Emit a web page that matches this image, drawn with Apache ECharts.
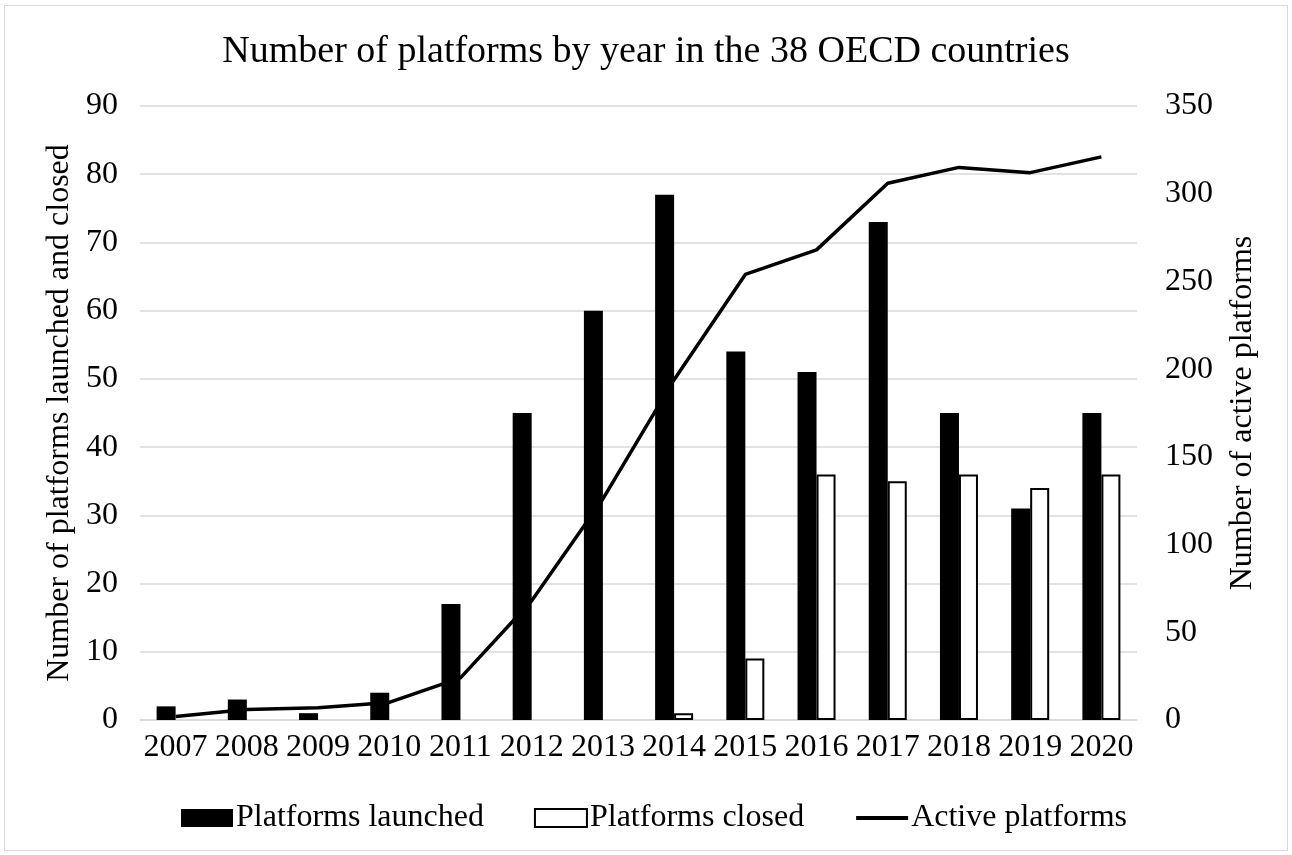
<!DOCTYPE html>
<html>
<head>
<meta charset="utf-8">
<script src="https://cdn.jsdelivr.net/npm/echarts@6/dist/echarts.min.js"></script>
<style>
  body { margin: 0; background: #fff; }
  #chart-container { position: absolute; left: 0; top: 0; width: 1292px; height: 855px; }
  #frame { position: absolute; left: 4px; top: 5px; width: 1282px; height: 844px; border: 1.5px solid #d9d9d9; pointer-events: none; }
</style>
</head>
<body>
<div id="chart-container"></div>
<div id="frame"></div>
<script>
const years = ["2007", "2008", "2009", "2010", "2011", "2012", "2013", "2014", "2015", "2016", "2017", "2018", "2019", "2020"];
const launched = [2, 3, 1, 4, 17, 45, 60, 77, 54, 51, 73, 45, 31, 45];
const closed = [0, 0, 0, 0, 0, 0, 0, 1, 9, 36, 35, 36, 34, 36];
const active = [2, 6, 7, 10, 24, 68, 126, 194, 254, 268, 306, 315, 312, 321];

const font = "'Liberation Serif', 'Times New Roman', serif";

// Map Chart onto 'chart-container' div
const chart = echarts.init(document.getElementById("chart-container"));

const option = {
  animation: false,
  textStyle: { fontFamily: font, color: "#000" },
  title: {
    text: "Number of platforms by year in the 38 OECD countries",
    left: "center",
    top: 28,
    textStyle: { fontFamily: font, fontSize: 38, fontWeight: "normal", color: "#000" },
  },
  legend: {
    bottom: 16,
    left: 176,
    itemWidth: 52,
    itemHeight: 18,
    itemGap: 50,
    textStyle: { fontFamily: font, fontSize: 32, color: "#000", padding: [0, 0, 0, -2] },
    data: [
      { name: "Platforms launched", icon: "rect" },
      { name: "Platforms closed", icon: "rect" },
      // line only in the legend, no marker dot
      { name: "Active platforms", itemStyle: { opacity: 0 }, lineStyle: { width: 4 } },
    ],
  },
  grid: { left: 140, right: 155, top: 106, bottom: 135 },
  xAxis: {
    type: "category",
    data: years,
    axisTick: { show: false },
    axisLine: { lineStyle: { color: "#d9d9d9", width: 1.5 } },
    axisLabel: { fontFamily: font, fontSize: 32, color: "#000", margin: 12, interval: 0 },
  },
  yAxis: [
    {
      type: "value",
      min: 0,
      max: 90,
      interval: 10,
      name: "Number of platforms launched and closed",
      nameLocation: "middle",
      nameGap: 60,
      nameTextStyle: { fontFamily: font, fontSize: 32, color: "#000" },
      axisLabel: { fontFamily: font, fontSize: 32, color: "#000", margin: 22 },
      splitLine: { lineStyle: { color: "#d9d9d9", width: 1.5 } },
      axisLine: { show: false },
      axisTick: { show: false },
    },
    {
      type: "value",
      min: 0,
      max: 350,
      interval: 50,
      name: "Number of active platforms",
      nameLocation: "middle",
      nameGap: 90,
      nameRotate: 90,
      nameTextStyle: { fontFamily: font, fontSize: 32, color: "#000" },
      axisLabel: { fontFamily: font, fontSize: 32, color: "#000", margin: 28 },
      splitLine: { show: false },
      axisLine: { show: false },
      axisTick: { show: false },
    },
  ],
  series: [
    {
      name: "Platforms launched",
      type: "bar",
      data: launched,
      barWidth: 19,
      barGap: "0%",
      itemStyle: { color: "#000", borderColor: "#000", borderWidth: 0 },
    },
    {
      name: "Platforms closed",
      type: "bar",
      // zero years have no visible bar
      data: closed.map((v) => (v === 0 ? "-" : v)),
      barWidth: 19,
      barGap: "0%",
      itemStyle: { color: "#fff", borderColor: "#000", borderWidth: 2 },
    },
    {
      name: "Active platforms",
      type: "line",
      yAxisIndex: 1,
      data: active,
      symbol: "none",
      lineStyle: { color: "#000", width: 3.5 },
      itemStyle: { color: "#000" },
    },
  ],
};

chart.setOption(option);
</script>
</body>
</html>
